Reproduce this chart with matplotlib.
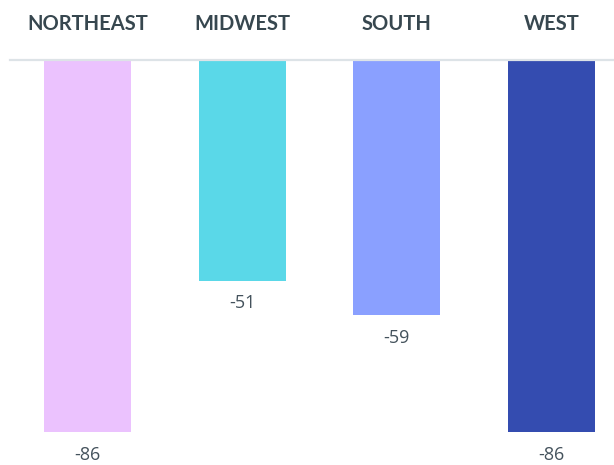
import matplotlib
matplotlib.use("Agg")
import matplotlib.pyplot as plt

regions = ["NORTHEAST", "MIDWEST", "SOUTH", "WEST"]
values = [-86, -51, -59, -86]
colors = ["#EBC2FE", "#5AD8E8", "#8AA0FF", "#344CB0"]

fig = plt.figure(figsize=(6.14, 4.65), dpi=100)
ax = fig.add_axes([0, 0, 1, 1])

x = list(range(len(regions)))
ax.bar(x, values, width=0.563, color=colors, zorder=2)

ax.set_xlim(-0.566, 3.404)
ax.set_ylim(-93.6, 13.87)
ax.axhline(0, xmin=10 / 614, xmax=1, color="#DDE3E7", lw=1.6, zorder=3)

for xi, name, v in zip(x, regions, values):
    ax.text(xi, 6.95, name, ha="center", va="baseline", fontsize=14.5,
            fontweight="bold", family="Lato", color="#37474F")
    ax.text(xi, v - 6.4, f"{v}", ha="center", va="baseline", fontsize=13,
            family="Open Sans", color="#44525C")

ax.axis("off")
fig.savefig("out.png", dpi=100)
